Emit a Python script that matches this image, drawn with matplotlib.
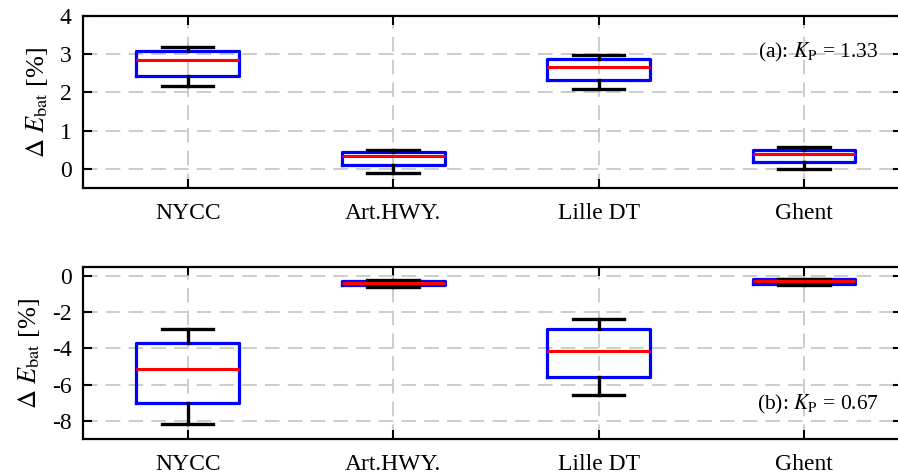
#Box plots of battery energy deviation for four drive cycles

import matplotlib
matplotlib.use('Agg')
import matplotlib.pyplot as plt

plt.rcParams['font.family'] = ['Liberation Serif', 'DejaVu Serif']
plt.rcParams['mathtext.fontset'] = 'stix'
plt.rcParams['axes.unicode_minus'] = False

cycles = ['NYCC', 'Art.HWY.', 'Lille DT', 'Ghent']

#(a) Kp = 1.33
a_low = [2.17, -0.10, 2.10, 0.00]
a_q1 = [2.44, 0.09, 2.32, 0.17]
a_med = [2.85, 0.33, 2.67, 0.38]
a_q3 = [3.08, 0.44, 2.88, 0.50]
a_high = [3.19, 0.50, 2.98, 0.58]

#(b) Kp = 0.67
b_low = [-8.17, -0.62, -6.56, -0.52]
b_q1 = [-7.02, -0.52, -5.58, -0.45]
b_med = [-5.16, -0.38, -4.12, -0.31]
b_q3 = [-3.73, -0.27, -2.96, -0.19]
b_high = [-2.96, -0.25, -2.37, -0.17]

def make_stats(low, q1, med, q3, high):
    stats = []
    for i in range(len(cycles)):
        stats.append({'whislo': low[i], 'q1': q1[i], 'med': med[i],
                      'q3': q3[i], 'whishi': high[i], 'fliers': [],
                      'label': cycles[i]})
    return stats

def draw_panel(ax, stats, ylim, yticks, note, note_y):
    ax.bxp(stats, positions=[1, 2, 3, 4], widths=0.5, showfliers=False,
           boxprops=dict(color='#0000ff', linewidth=2.3),
           medianprops=dict(color='#ff0000', linewidth=2.2),
           whiskerprops=dict(color='black', linewidth=2.4),
           capprops=dict(color='black', linewidth=2.4))
    ax.set_xlim(0.49, 4.475)
    ax.set_ylim(ylim)
    ax.set_yticks(yticks)
    ax.grid(True, color='#cccccc', linewidth=1.4, linestyle=(0, (7.5, 4.2)))
    ax.set_axisbelow(True)
    ax.tick_params(direction='in', length=6.5, width=1.5, top=True, right=True,
                   labelsize=17, pad=8)
    ax.tick_params(axis='x', pad=11)
    for s in ax.spines.values():
        s.set_linewidth(1.6)
    ax.set_ylabel(r'$\Delta\ E_{\mathrm{bat}}$ [%]', fontsize=19, labelpad=7)
    ax.text(0.972, note_y, note, transform=ax.transAxes, ha='right',
            va='center', fontsize=15.5)

fig = plt.figure(figsize=(8.98, 4.74), dpi=100)
ax1 = fig.add_axes([0.0924, 0.6034, 0.9116, 0.3628])
ax2 = fig.add_axes([0.0924, 0.0738, 0.9116, 0.3635])

draw_panel(ax1, make_stats(a_low, a_q1, a_med, a_q3, a_high), (-0.5, 4),
           [0, 1, 2, 3, 4], r'(a): $K_{\mathrm{P}}$ = 1.33', 0.79)
draw_panel(ax2, make_stats(b_low, b_q1, b_med, b_q3, b_high), (-9, 0.5),
           [-8, -6, -4, -2, 0], r'(b): $K_{\mathrm{P}}$ = 0.67', 0.2)

fig.savefig('out.png', dpi=100)
